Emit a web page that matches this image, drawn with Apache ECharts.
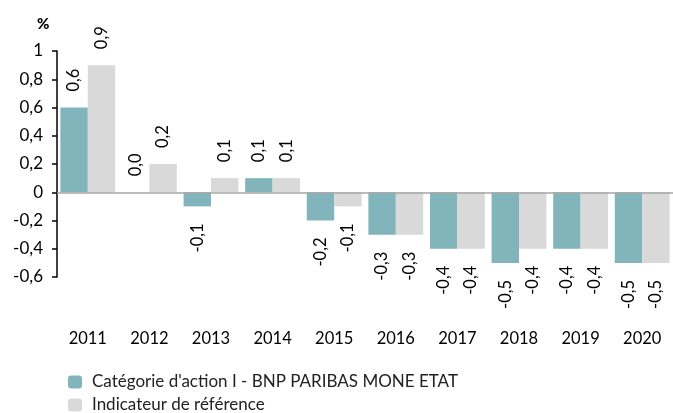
<!DOCTYPE html>
<html><head><meta charset="utf-8">
<script src="https://cdn.jsdelivr.net/npm/echarts@6/dist/echarts.min.js"></script>
<style>html,body{margin:0;padding:0;background:#fff}#c{width:673px;height:413px}</style>
</head><body><div id="c"></div>
<script>
var categories = ['2011','2012','2013','2014','2015','2016','2017','2018','2019','2020'];
var fundValues = [0.6, 0.0, -0.1, 0.1, -0.2, -0.3, -0.4, -0.5, -0.4, -0.5];
var benchValues = [0.9, 0.2, 0.1, 0.1, -0.1, -0.3, -0.4, -0.4, -0.4, -0.5];
var yTicks = [-0.6, -0.4, -0.2, 0, 0.2, 0.4, 0.6, 0.8, 1];
var seriesNames = ["Catégorie d'action I - BNP PARIBAS MONE ETAT", "Indicateur de référence"];

var FONT = 'Lato';
function fmtLabel(v){ return v.toFixed(1).replace('.', ','); }
function fmtTick(v){ return (Math.round(v*10)/10).toString().replace('.', ','); }
function mkData(arr){
  return arr.map(function(v){
    var pos = v >= 0;
    return {value: v, label: {position: pos ? 'top' : 'bottom', align: pos ? 'left' : 'right', distance: pos ? 16 : 17}};
  });
}
var chart = echarts.init(document.getElementById('c'), null, {renderer:'canvas'});
var labelBase = {show:true, rotate:90, verticalAlign:'middle', color:'#000', fontFamily:FONT, fontSize:16.5,
  formatter:function(p){return fmtLabel(p.value);}};
var legendText = {fontFamily:FONT, fontSize:17, color:'#222', lineHeight:18, padding:[0,0,0,5]};
chart.setOption({
  animation:false,
  textStyle:{fontFamily:FONT},
  graphic:[{type:'text', left:37, top:17, style:{text:'%', font:'900 15px '+FONT, fill:'#000'}}],
  legend:[
    {orient:'vertical', left:68, top:373, padding:0, itemWidth:14, itemHeight:13, textStyle:legendText, data:[seriesNames[0]]},
    {orient:'vertical', left:68, top:396, padding:0, itemWidth:14, itemHeight:13, textStyle:legendText, data:[seriesNames[1]]}
  ],
  grid:{left:57, right:-3, top:51, bottom:136, containLabel:false},
  xAxis:{type:'category', data:categories, axisLine:{show:false}, axisTick:{show:false},
    axisLabel:{color:'#000', fontFamily:FONT, fontSize:16.5, margin:53}},
  yAxis:{type:'value', min:-0.6, max:1, interval:0.2,
    axisLine:{show:true, lineStyle:{color:'#000', width:1.5}},
    axisTick:{show:true, length:5, lineStyle:{color:'#000', width:1.5}},
    splitLine:{show:false},
    axisLabel:{color:'#000', fontFamily:FONT, fontSize:17, margin:14, formatter:fmtTick}},
  series:[
    {name:seriesNames[0], type:'bar', data:mkData(fundValues), barGap:'0%', barCategoryGap:'11%',
     itemStyle:{color:'#82b4bb'}, label:labelBase,
     markLine:{silent:true, symbol:'none', label:{show:false}, lineStyle:{color:'#a6a6a6', width:1.5, type:'solid'}, data:[{yAxis:0}]}},
    {name:seriesNames[1], type:'bar', data:mkData(benchValues), barGap:'0%', barCategoryGap:'11%',
     itemStyle:{color:'#d9d9d9'}, label:labelBase}
  ]
});
</script></body></html>
